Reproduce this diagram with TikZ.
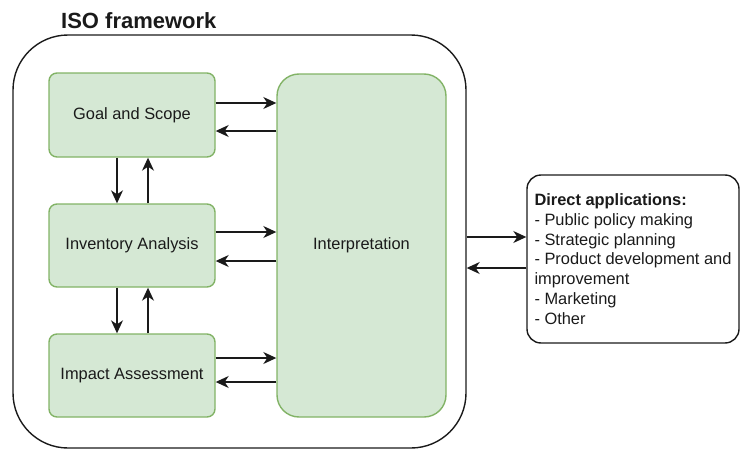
\documentclass[tikz,border=0pt]{standalone}
\usepackage{fontspec}
\setmainfont{Liberation Sans}
\usetikzlibrary{arrows.meta,calc}
\definecolor{gfill}{HTML}{D5E8D4}
\definecolor{gdraw}{HTML}{82B366}
\definecolor{ink}{HTML}{1A1A1A}
\begin{document}
\begin{tikzpicture}[x=1pt,y=-1pt,
  stage/.style={draw=gdraw, fill=gfill, line width=1.4pt, rounded corners=8pt,
    font=\fontsize{16.4}{19.8}\selectfont, text=ink, inner sep=0pt},
  arr/.style={draw=ink, line width=1.4pt, -{Stealth[length=13pt,width=12pt,inset=4pt]}},
  frame/.style={draw=ink, line width=1.4pt, inner sep=0pt}
]
\useasboundingbox (0,0) rectangle (740,450);
\node[frame, rounded corners=55pt, minimum width=453pt, minimum height=413pt] (iso) at (239.5,241.5) {};
\node[anchor=base west, font=\fontsize{22}{26}\selectfont\bfseries, inner sep=0pt, text=ink] (title) at (61,28) {ISO framework};

\node[stage, minimum width=166pt, minimum height=84pt] (goal) at (132,115) {Goal and Scope};
\node[stage, minimum width=166pt, minimum height=83pt] (inv) at (132,245.5) {Inventory Analysis};
\node[stage, minimum width=166pt, minimum height=83pt] (imp) at (132,375.5) {Impact Assessment};
\node[stage, rounded corners=22pt, minimum width=169pt, minimum height=343pt] (interp) at (361.5,245.5) {Interpretation};

\node[frame, rounded corners=14pt, minimum width=212pt, minimum height=168pt, align=left,
  font=\fontsize{16.4}{19.8}\selectfont, text=ink] (apps) at (633,259)
  {\textbf{Direct applications:}\\- Public policy making\\- Strategic planning\\- Product development and\\improvement\\- Marketing\\- Other};

\coordinate (a1) at (0,103);
\coordinate (a2) at (0,131);
\coordinate (b1) at (0,232);
\coordinate (b2) at (0,261);
\coordinate (c1) at (0,358);
\coordinate (c2) at (0,382);
\coordinate (d1) at (0,237);
\coordinate (d2) at (0,268);
\coordinate (vx1) at (117,0);
\coordinate (vx2) at (148,0);

\draw[arr] (goal.east |- a1) -- (interp.west |- a1);
\draw[arr] (interp.west |- a2) -- (goal.east |- a2);
\draw[arr] (inv.east |- b1) -- (interp.west |- b1);
\draw[arr] (interp.west |- b2) -- (inv.east |- b2);
\draw[arr] (imp.east |- c1) -- (interp.west |- c1);
\draw[arr] (interp.west |- c2) -- (imp.east |- c2);

\draw[arr] (goal.south -| vx1) -- (inv.north -| vx1);
\draw[arr] (inv.north -| vx2) -- (goal.south -| vx2);
\draw[arr] (inv.south -| vx1) -- (imp.north -| vx1);
\draw[arr] (imp.north -| vx2) -- (inv.south -| vx2);

\draw[arr] (iso.east |- d1) -- (apps.west |- d1);
\draw[arr] (apps.west |- d2) -- (iso.east |- d2);
\end{tikzpicture}
\end{document}
